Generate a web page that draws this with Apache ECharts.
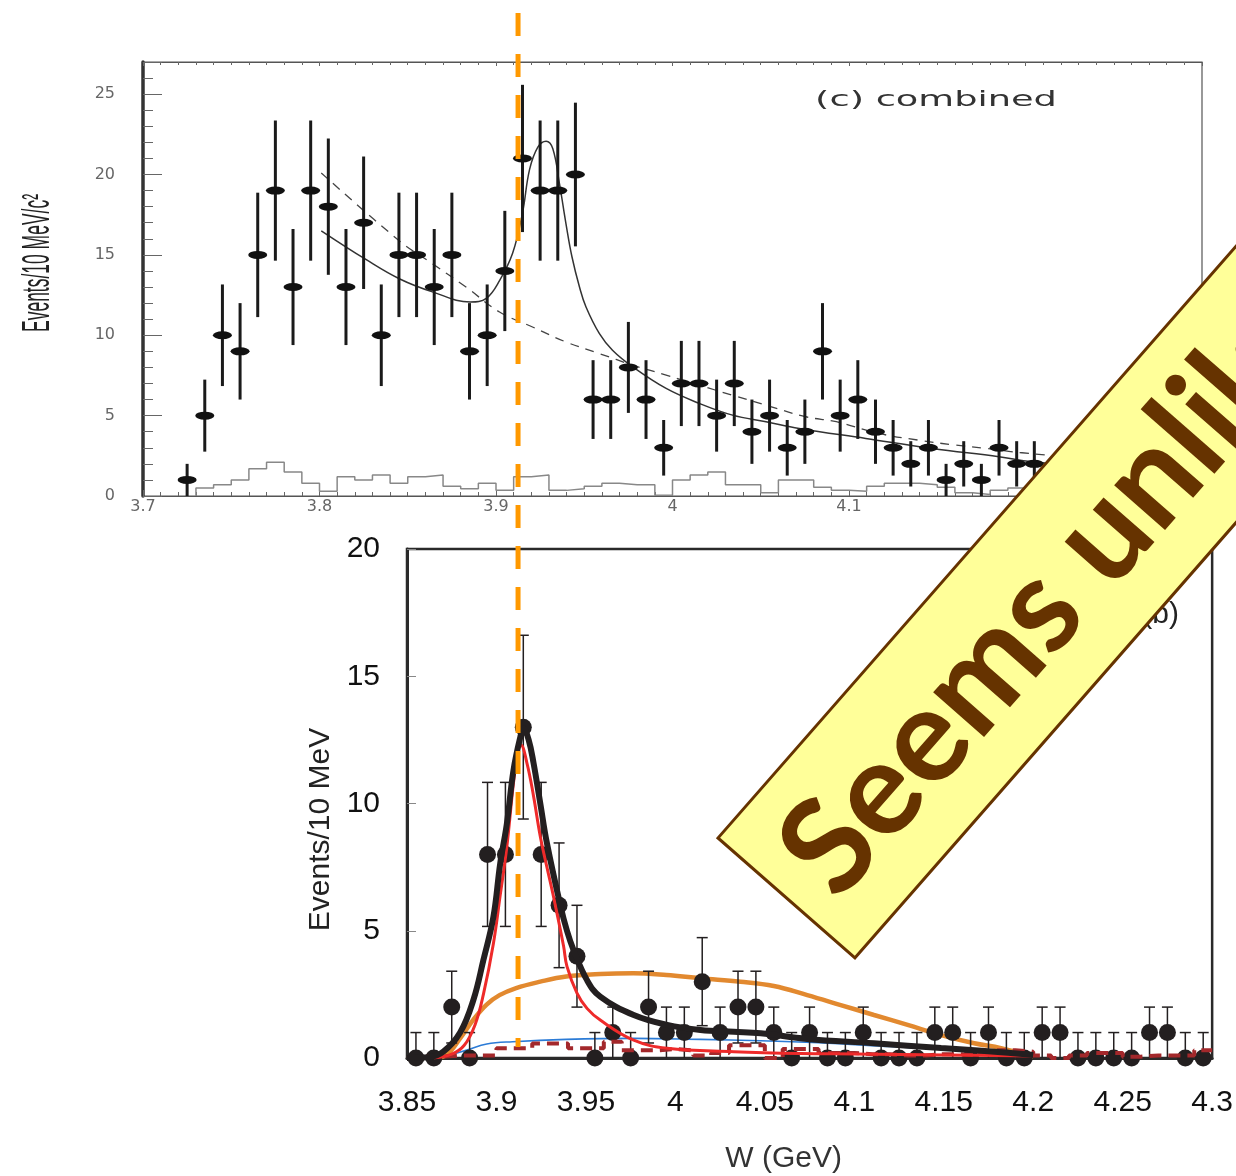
<!DOCTYPE html>
<html><head><meta charset="utf-8">
<script src="https://cdn.jsdelivr.net/npm/echarts@6/dist/echarts.min.js"></script>
<style>html,body{margin:0;padding:0;background:#fff}#c{width:1236px;height:1176px}</style>
</head><body><div id="c"></div>
<script>
// ---------- upper panel: (c) combined ----------
const topFirstCenter = 3.725;            // bin centres every 10 MeV
const topBinWidth = 0.01;
const topCounts = [1,5,10,9,15,19,13,19,18,13,17,10,15,15,13,15,9,10,14,21,19,19,20,6,6,8,6,3,7,7,5,7,4,5,3,4,9,5,6,4,3,2,3,1,2,1,3,2,2];
const topErr    = [1,2.24,3.16,3,3.87,4.36,3.61,4.36,4.24,3.61,4.12,3.16,3.87,3.87,3.61,3.87,3,3.16,3.74,4.58,4.36,4.36,4.47,2.45,2.45,2.83,2.45,1.73,2.65,2.65,2.24,2.65,2,2.24,1.73,2,3,2.24,2.45,2,1.73,1.41,1.73,1,1.41,1,1.73,1.41,1.41];
const topHistStart = 3.73;
const topHist = [0.5,0.7,1.0,1.7,2.1,1.5,0.8,0.3,1.2,1.0,1.3,0.8,1.2,1.3,0.6,0.45,0.8,0.35,1.2,1.3,0.35,0.45,0.6,0.8,0.7,0.7,0.05,1.0,1.3,1.5,0.7,0.7,0.2,1.0,1.0,0.55,0.35,0.3,0.6,0.8,0.8,0.7,0.55,0.2,0.1,0.35,0.5];
const topFit = [[3.801,16.5],[3.8265,14.7],[3.8455,13.5],[3.864,12.7],[3.8855,12.07],[3.8945,12.3],[3.902,13.4],[3.9094,15.1],[3.915,17.6],[3.919,20.3],[3.9237,21.7],[3.9284,22.07],[3.9322,21.6],[3.936,19.4],[3.9397,16.9],[3.943,14.9],[3.9473,13.0],[3.951,11.76],[3.9586,10.1],[3.966,9.07],[3.9775,8.03],[3.9964,6.69],[4.0152,5.76],[4.034,5.03],[4.053,4.62],[4.0718,4.2],[4.1095,3.58],[4.147,2.96],[4.185,2.44],[4.2037,2.13],[4.25,1.75],[4.3,1.4]];
const topBkg = [[3.801,20.1],[3.8455,15.85],[3.864,14.45],[3.883,13.0],[3.902,11.45],[3.921,10.5],[3.9397,9.58],[3.9586,8.86],[3.9775,8.14],[3.9964,7.52],[4.0152,6.89],[4.034,6.27],[4.053,5.65],[4.0755,4.93],[4.0928,4.62],[4.117,3.89],[4.139,3.48],[4.16,3.17],[4.178,2.96],[4.198,2.69],[4.25,2.2],[4.3,1.8]];

// ---------- lower panel ----------
const botFirstCenter = 3.855;
const botBinWidth = 0.01;
const botCounts  = [0,0,2,0,8,8,13,8,6,4,0,1,0,2,1,1,3,1,2,2,1,0,1,0,0,1,0,0,0,1,1,0,1,0,0,1,1,0,0,0,0,1,1,0,0];
const botErrUp   = [1,1,1.41,1,2.83,2.83,3.61,2.83,2.45,2,1,1,1,1.41,1,1,1.73,1,1.41,1.41,1,1,1,1,1,1,1,1,1,1,1,1,1,1,1,1,1,1,1,1,1,1,1,1,1];
const botErrDown = [0,0,1.41,0,2.83,2.83,3.61,2.83,2.45,2,0,1,0,1.41,1,1,1.73,1,1.41,1.41,1,0,1,0,0,1,0,0,0,1,1,0,1,0,0,1,1,0,0,0,0,1,1,0,0];
const botHistStart = 3.85;
const botHist = [0.05,0.05,0.1,0.1,0.1,0.38,0.38,0.57,0.57,0.38,0.38,0.64,0.3,0.3,0.35,0.3,0.1,0.2,0.5,0.5,0.0,0.35,0.35,0.2,0.2,0.15,0.15,0.1,0.1,0.15,0.15,0.1,0.2,0.3,0.25,0.1,0.0,0.1,0.2,0.2,0.05,0.1,0.1,0.1,0.3];
const botTotal = [[3.85,0],[3.862,0.03],[3.8703,0.25],[3.8797,1.0],[3.8871,2.28],[3.8927,3.85],[3.8983,5.55],[3.9021,7.65],[3.9058,9.2],[3.9095,11.3],[3.9133,12.6],[3.9151,12.95],[3.918,12.5],[3.9207,11.6],[3.9245,10.0],[3.9282,8.44],[3.9357,6.0],[3.9394,5.0],[3.9431,4.24],[3.9506,3.06],[3.958,2.41],[3.9767,1.69],[3.9954,1.3],[4.014,1.1],[4.0327,1.03],[4.0477,0.97],[4.0737,0.75],[4.111,0.58],[4.1485,0.39],[4.186,0.21],[4.2,0.12]];
const botSignal = [[3.865,0],[3.875,0.15],[3.882,0.5],[3.888,1.3],[3.8927,2.5],[3.8983,4.5],[3.9021,6.4],[3.9058,8.3],[3.9095,10.8],[3.9123,12.2],[3.9136,12.3],[3.917,11.6],[3.9207,10.3],[3.9245,8.7],[3.9282,7.5],[3.932,6.3],[3.9375,4.4],[3.9394,3.6],[3.945,2.55],[3.9506,1.95],[3.958,1.49],[3.9767,0.7],[3.9954,0.38],[4.0327,0.25],[4.07,0.18],[4.1,0.16],[4.15,0.12],[4.2,0.08]];
const botOrange = [[3.865,0],[3.872,0.12],[3.88,0.8],[3.887,1.5],[3.8945,2.1],[3.9017,2.47],[3.911,2.75],[3.9245,3.0],[3.939,3.2],[3.958,3.3],[3.9765,3.33],[3.995,3.26],[4.014,3.13],[4.0364,3.0],[4.055,2.83],[4.0737,2.47],[4.0924,2.08],[4.111,1.69],[4.1298,1.3],[4.1485,0.9],[4.167,0.58],[4.182,0.39],[4.2,0.05]];
const botBlue = [[3.868,0],[3.8834,0.31],[3.8946,0.55],[3.909,0.64],[3.939,0.73],[3.9765,0.77],[4.014,0.73],[4.0476,0.68],[4.08,0.6],[4.12,0.45],[4.16,0.3],[4.2,0.12]];

// vertical marker shared by both panels
const markerX = 3.912;

// ---------- helpers ----------
const r3 = v => Math.round(v * 1000) / 1000;
function stepData(start, width, vals) {
  const d = [[start, 0]];
  vals.forEach((v, i) => d.push([r3(start + i * width), v]));
  d.push([r3(start + vals.length * width), vals[vals.length - 1]]);
  return d;
}
const topCenters = topCounts.map((_, i) => r3(topFirstCenter + i * topBinWidth));
const botCenters = botCounts.map((_, i) => r3(botFirstCenter + i * botBinWidth));
const topPts = topCounts.map((c, i) => [topCenters[i], c]);
const topErrData = topCounts.map((c, i) => [topCenters[i], c - topErr[i], c + topErr[i]]);
const botPts = botCounts.map((c, i) => [botCenters[i], c]);
const botErrData = botCounts.map((c, i) => [botCenters[i], c - botErrDown[i], c + botErrUp[i]]);

function errRender(capW, lw, color) {
  return function (params, api) {
    const x = api.value(0), lo = api.value(1), hi = api.value(2);
    const a = api.coord([x, lo]), b = api.coord([x, hi]);
    const st = { stroke: color, lineWidth: lw };
    const ch = [{ type: 'line', shape: { x1: a[0], y1: a[1], x2: b[0], y2: b[1] }, style: st }];
    if (capW) {
      ch.push({ type: 'line', shape: { x1: b[0] - capW / 2, y1: b[1], x2: b[0] + capW / 2, y2: b[1] }, style: st });
      if (lo > 0.01) ch.push({ type: 'line', shape: { x1: a[0] - capW / 2, y1: a[1], x2: a[0] + capW / 2, y2: a[1] }, style: st });
    }
    return { type: 'group', children: ch };
  };
}

const chart = echarts.init(document.getElementById('c'), null, { renderer: 'canvas' });
const topTick = { color: '#666', width: 1 };
chart.setOption({
  animation: false,
  backgroundColor: '#ffffff',
  grid: [
    { left: 143, top: 62, width: 1059, height: 434, show: true, borderColor: '#555', borderWidth: 1.2, backgroundColor: 'transparent' },
    { left: 407, top: 549, width: 806, height: 509, show: true, borderColor: '#2a2a2a', borderWidth: 2.5, backgroundColor: 'transparent' },
    { left: 407, top: 0, width: 806, height: 1047 }
  ],
  xAxis: [
    { gridIndex: 0, type: 'value', min: 3.7, max: 4.3, interval: 0.1,
      axisLine: { lineStyle: { color: '#555', width: 1.2 } },
      axisTick: { inside: true, length: 6, lineStyle: topTick },
      minorTick: { show: true, splitNumber: 10, length: 4, lineStyle: topTick },
      splitLine: { show: false },
      axisLabel: { margin: 3, fontSize: 16, color: '#666', fontFamily: 'DejaVu Sans' } },
    { gridIndex: 0, type: 'value', position: 'top', min: 3.7, max: 4.3, interval: 0.1,
      axisLine: { lineStyle: { color: '#555', width: 1.2 } },
      axisTick: { inside: true, length: 4, lineStyle: topTick },
      minorTick: { show: true, splitNumber: 10, length: 3, lineStyle: topTick },
      splitLine: { show: false }, axisLabel: { show: false } },
    { gridIndex: 1, type: 'value', min: 3.85, max: 4.3, interval: 0.05,
      axisLine: { lineStyle: { color: '#2a2a2a', width: 3 } },
      axisTick: { show: false }, splitLine: { show: false },
      axisLabel: { margin: 30, fontSize: 30, color: '#111', fontFamily: 'Liberation Sans' },
      name: 'W (GeV)', nameLocation: 'middle', nameGap: 86,
      nameTextStyle: { fontSize: 30, color: '#333', fontFamily: 'Liberation Sans', padding: [0, 52, 0, 0] } },
    { gridIndex: 2, type: 'value', min: 3.85, max: 4.3, show: false }
  ],
  yAxis: [
    { gridIndex: 0, type: 'value', min: 0, max: 27, interval: 5,
      axisLine: { show: true, lineStyle: { color: '#333', width: 3.5 } },
      axisTick: { show: true, inside: true, length: 19, lineStyle: topTick },
      minorTick: { show: true, splitNumber: 5, length: 10, lineStyle: topTick },
      splitLine: { show: false },
      axisLabel: { margin: 28, fontSize: 16, color: '#666', fontFamily: 'DejaVu Sans', showMaxLabel: false } },
    { gridIndex: 1, type: 'value', min: 0, max: 20, interval: 5,
      axisLine: { show: true, lineStyle: { color: '#2a2a2a', width: 3 } },
      axisTick: { show: true, inside: true, length: 9, lineStyle: { color: '#888', width: 1 } },
      splitLine: { show: false },
      axisLabel: { margin: 27, fontSize: 30, color: '#111', fontFamily: 'Liberation Sans' },
      name: 'Events/10 MeV', nameLocation: 'middle', nameGap: 62,
      nameTextStyle: { fontSize: 30, color: '#222', fontFamily: 'Liberation Sans', padding: [0, 52, 0, 0] } },
    { gridIndex: 2, type: 'value', min: 0, max: 1, show: false }
  ],
  series: [
    // upper panel
    { name: 'topHist', type: 'line', xAxisIndex: 0, yAxisIndex: 0, step: 'end', data: stepData(topHistStart, topBinWidth, topHist),
      showSymbol: false, lineStyle: { color: '#888', width: 1.5 }, z: 2 },
    { name: 'topBkg', type: 'line', xAxisIndex: 0, yAxisIndex: 0, smooth: 0.4, data: topBkg, showSymbol: false,
      lineStyle: { color: '#444', width: 1.3, type: [9, 7] }, z: 3 },
    { name: 'topFit', type: 'line', xAxisIndex: 0, yAxisIndex: 0, smooth: 0.4, data: topFit, showSymbol: false,
      lineStyle: { color: '#333', width: 1.5 }, z: 3 },
    { name: 'topErr', type: 'custom', xAxisIndex: 0, yAxisIndex: 0, data: topErrData, encode: { x: 0, y: [1, 2] },
      renderItem: errRender(0, 3, '#1a1a1a'), z: 4 },
    { name: 'topData', type: 'scatter', xAxisIndex: 0, yAxisIndex: 0, data: topPts, symbol: 'circle', symbolSize: [19, 8],
      itemStyle: { color: '#111', opacity: 1 }, z: 5 },
    // lower panel
    { name: 'orange', type: 'line', xAxisIndex: 2, yAxisIndex: 1, smooth: 0.4, data: botOrange, showSymbol: false,
      lineStyle: { color: '#e2892f', width: 4.5 }, z: 2 },
    { name: 'blue', type: 'line', xAxisIndex: 2, yAxisIndex: 1, smooth: 0.4, data: botBlue, showSymbol: false,
      lineStyle: { color: '#2b7bd6', width: 1.6 }, z: 2 },
    { name: 'botErr', type: 'custom', xAxisIndex: 2, yAxisIndex: 1, data: botErrData, encode: { x: 0, y: [1, 2] },
      renderItem: errRender(11, 1.5, '#231f20'), z: 3 },
    { name: 'botData', type: 'scatter', xAxisIndex: 2, yAxisIndex: 1, data: botPts, symbol: 'circle', symbolSize: 17,
      itemStyle: { color: '#231f20', opacity: 1 }, z: 4 },
    { name: 'botHist', type: 'line', xAxisIndex: 2, yAxisIndex: 1, step: 'end', data: stepData(botHistStart, botBinWidth, botHist),
      showSymbol: false, lineStyle: { color: '#a3282b', width: 4, type: [12, 7] }, z: 5 },
    { name: 'signal', type: 'line', xAxisIndex: 2, yAxisIndex: 1, smooth: 0.4, data: botSignal, showSymbol: false,
      lineStyle: { color: '#ee2a2a', width: 3 }, z: 6 },
    { name: 'total', type: 'line', xAxisIndex: 2, yAxisIndex: 1, smooth: 0.4, data: botTotal, showSymbol: false,
      lineStyle: { color: '#231f20', width: 6 }, z: 7 },
    // vertical dashed marker
    { name: 'marker', type: 'line', xAxisIndex: 3, yAxisIndex: 2, data: [[markerX, 0], [markerX, 1]], showSymbol: false,
      lineStyle: { color: '#ff9900', width: 5, type: [23, 18], dashOffset: 14 }, z: 10 }
  ],
  graphic: [
    { type: 'text', x: 936, y: 101, scaleX: 1.75, z: 20,
      style: { text: '(c) combined', fill: '#333', fontSize: 21, fontFamily: 'DejaVu Sans', textAlign: 'center', textVerticalAlign: 'middle' } },
    { type: 'text', x: 38.5, y: 263, rotation: Math.PI / 2, scaleX: 0.46, z: 20,
      style: { text: 'Events/10 MeV/c²', fill: '#222', fontSize: 38, fontFamily: 'Liberation Sans', textAlign: 'center', textVerticalAlign: 'middle' } },
    { type: 'text', x: 1179, y: 615, z: 20,
      style: { text: '(b)', fill: '#222', fontSize: 30, fontFamily: 'Liberation Sans', textAlign: 'right', textVerticalAlign: 'middle' } },
    { type: 'group', x: 718, y: 838, rotation: 48.8 * Math.PI / 180, z: 100, children: [
      { type: 'rect', z: 100, shape: { x: 0, y: 0, width: 1100, height: 182 },
        style: { fill: '#ffff99', stroke: '#663300', lineWidth: 3 } },
      { type: 'text', z: 101, x: 30, y: 91,
        style: { text: 'Seems unlikely', fill: '#663300', fontSize: 132, fontWeight: 'bold', fontFamily: 'Lato', textAlign: 'left', textVerticalAlign: 'middle' } }
    ] }
  ]
});
</script></body></html>
